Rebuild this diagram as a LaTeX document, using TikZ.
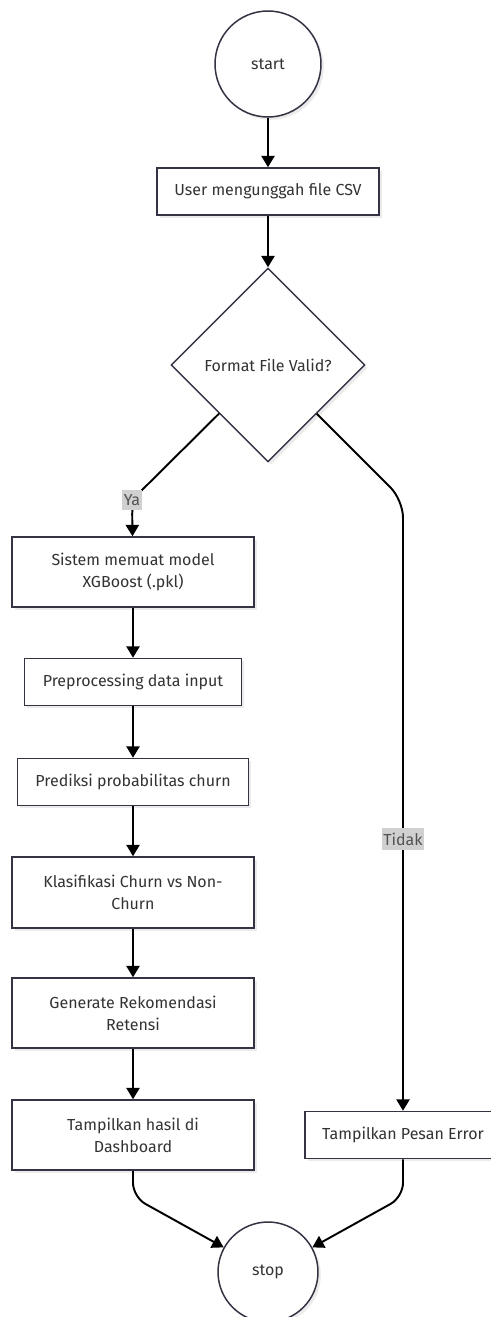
\documentclass[tikz,border=0pt]{standalone}
\usepackage{fontspec}
\setmainfont{Fira Sans}
\usetikzlibrary{positioning, shapes.geometric, arrows.meta, shadows}

\definecolor{nodeline}{HTML}{333344}
\definecolor{nodetext}{HTML}{333333}
\definecolor{lblfill}{HTML}{D0D0D0}

\begin{document}
\begin{tikzpicture}[x=0.02cm, y=-0.02cm,
    every node/.style={font=\fontsize{9.1}{12.5}\selectfont, text=nodetext},
    base/.style={draw=nodeline, line width=0.85pt, fill=white,
        general shadow={fill=black!8, shadow xshift=1.6pt, shadow yshift=-1.6pt}},
    terminal/.style={base, circle, inner sep=0pt, minimum size=#1},
    process/.style={base, rectangle, align=center, minimum height=0.94cm, minimum width=#1},
    decision/.style={base, diamond, aspect=1, inner sep=0pt, minimum size=3.88cm},
    lbl/.style={sharp corners, fill=lblfill, inner xsep=1pt, inner ysep=2.5pt, text=nodetext!85},
    flow/.style={line width=1.1pt, -{Triangle[length=6.5pt, width=7.5pt]}}]
    \useasboundingbox (0,0) rectangle (490,1317);

    \node[terminal=2.12cm] (start) at (268, 64) {start};
    \node[process=4.44cm] (upload) at (268, 191.5) {User mengunggah file CSV};
    \node[decision] (dec) at (268, 365) {Format File Valid?};

    \node[process=4.84cm, minimum height=1.4cm] (load) at (133, 572) {Sistem memuat model\\XGBoost (.pkl)};
    \node[process=4.34cm] (prep) at (133, 682) {Preprocessing data input};
    \node[process=4.62cm] (pred) at (133, 782) {Prediksi probabilitas churn};
    \node[process=4.84cm, minimum height=1.42cm] (klas) at (133, 892.5) {Klasifikasi Churn vs Non-\\Churn};
    \node[process=4.84cm, minimum height=1.4cm] (gen) at (133, 1013) {Generate Rekomendasi\\Retensi};
    \node[process=4.84cm, minimum height=1.4cm] (show) at (133, 1135) {Tampilkan hasil di\\Dashboard};
    \node[process=3.92cm] (err) at (403, 1135) {Tampilkan Pesan Error};

    \node[terminal=2cm] (stop) at (268, 1272) {stop};

    \coordinate (yabend) at (132, 500);
    \coordinate (tidakbend) at (403, 500);
    \coordinate (showbend) at (133, 1197);
    \coordinate (errbend) at (403, 1197);

    \draw[flow] (start) -- (upload);
    \draw[flow] (upload) -- (dec);
    \draw[flow, rounded corners=8pt] (dec) -- (yabend) node[lbl] {Ya} -- (load);
    \draw[flow, rounded corners=10pt] (dec) -- (tidakbend) -- node[lbl, pos=0.555] {Tidak} (err);
    \draw[flow] (load) -- (prep);
    \draw[flow] (prep) -- (pred);
    \draw[flow] (pred) -- (klas);
    \draw[flow] (klas) -- (gen);
    \draw[flow] (gen) -- (show);
    \draw[flow, rounded corners=8pt] (show) -- (showbend) -- (stop);
    \draw[flow, rounded corners=8pt] (err) -- (errbend) -- (stop);
\end{tikzpicture}
\end{document}
